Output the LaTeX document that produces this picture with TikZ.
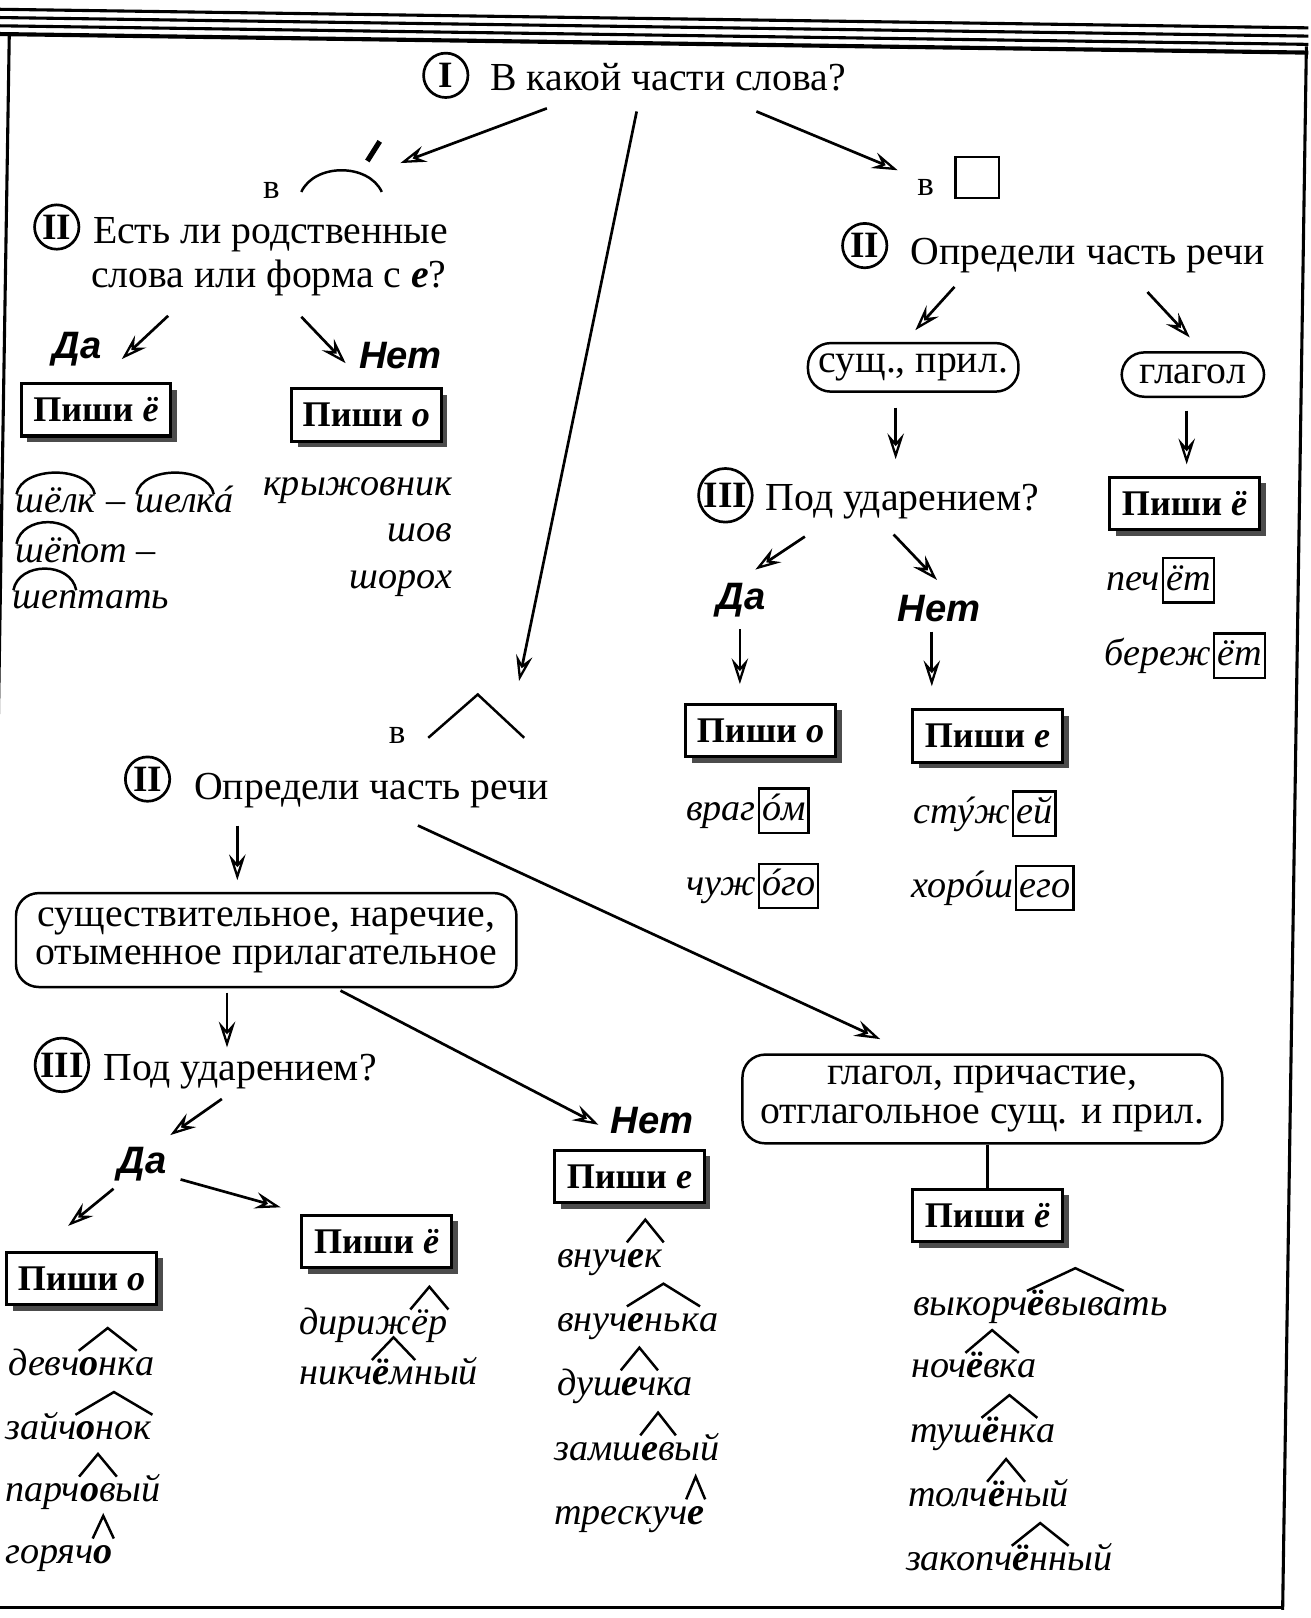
\documentclass[tikz,border=0pt]{standalone}
\usepackage{fontspec}
\setmainfont{Liberation Serif}
\newfontfamily\sansf{Liberation Sans}
\usetikzlibrary{calc,arrows.meta,shadows}
\newcommand\caretover[1]{\draw[mk] ($(#1.base west)+(-1,-24)$) -- ($(#1.base west)!0.5!(#1.base east)+(0,-46)$) -- ($(#1.base east)+(1,-24)$);}
\newcommand\rootover[1]{\draw[mk] ($(#1.base west)+(1,-18)$) .. controls ($(#1.base west)+(6,-46)$) and ($(#1.base east)+(-6,-46)$) .. ($(#1.base east)+(-1,-18)$);}
\newcommand\acc[1]{\ooalign{#1\cr\hidewidth\kern.14em ´\hidewidth\cr}}
\tikzset{
  qtext/.style={font=\fontsize{38.5}{40}\selectfont, inner sep=0pt, anchor=base west},
  numc/.style={circle, draw, line width=2.6pt, inner sep=0pt, minimum size=43pt, font=\bfseries\fontsize{36}{36}\selectfont},
  pishi/.style={draw, line width=3pt, fill=white, minimum width=145pt, minimum height=51pt, inner sep=0pt, font=\bfseries\fontsize{35}{35}\selectfont, drop shadow={shadow xshift=6pt, shadow yshift=-6pt, fill=black!70, opacity=1}},
  rbox/.style={draw, line width=2.4pt, rounded corners=22pt, align=center, inner sep=0pt, font=\fontsize{38.5}{37}\selectfont},
  yn/.style={font=\sansf\bfseries\itshape\fontsize{37}{37}\selectfont, inner sep=0pt},
  wd/.style={font=\itshape\fontsize{37}{37}\selectfont, inner sep=0pt, outer sep=0pt, anchor=base west},
  endbox/.style={draw, line width=2.2pt, inner xsep=3pt, inner ysep=3pt, text height=28pt, text depth=9pt, font=\itshape\fontsize{37}{37}\selectfont, anchor=base west, outer sep=0pt},
  vsym/.style={font=\fontsize{34}{34}\selectfont, inner sep=0pt},
  arr/.style={line width=2.6pt, -{Stealth[open, length=25pt, width=16pt, inset=9pt, line width=2.2pt]}},
  mk/.style={line width=2.4pt},
  frame/.style={line width=3pt},
}
\begin{document}
\begin{tikzpicture}[x=1pt,y=-1pt]
\useasboundingbox (0,0) rectangle (1270.4,1568);
\clip (0,0) rectangle (1270.4,1568);
\fill[white] (0,0) rectangle (1270.4,1568);
% frame
\draw[frame] (0,9) -- (1268,27);
\draw[frame] (0,17) -- (1268,35);
\draw[frame] (0,25) -- (1268,43);
\draw[line width=4pt] (0,33) -- (1268,51);
\draw[frame] (9,33) -- (-8,1100);
\draw[frame] (1266,45) -- (1243,1560);
\draw[frame] (-5,1558) -- (1243,1558);

% top question
\node[numc] (n1) at (432,73) {I};
\node[qtext] (q1) at (475,88) {В какой части слова?};

% root symbol
\node[vsym] (vroot) at (263,185) {в};
\draw[mk] (292,186) .. controls (305,158) and (357,158) .. (370,186);
\draw[line width=5pt] (356,156) -- (368,137);
% ending symbol
\node[vsym] (vend) at (897,182) {в};
\draw[mk] (926,152) rectangle (968,192);
% suffix symbol
\node[vsym] (vsuf) at (385,713) {в};
\draw[mk] (415,715) -- (463,673) -- (508,715);

\coordinate (a1s) at (530,105); \coordinate (a1e) at (388,158);
\coordinate (a2s) at (617,108); \coordinate (a2e) at (503,660);
\coordinate (a3s) at (733,108); \coordinate (a3e) at (870,165);
\draw[arr] (a1s) -- (a1e);
\draw[arr] (a2s) -- (a2e);
\draw[arr] (a3s) -- (a3e);

% ===== left branch =====
\node[numc] (n2L) at (55,220) {II};
\node[qtext] (q2La) at (90,236) {Есть ли родственные};
\node[qtext] (q2Lb) at (88,279) {слова или форма с \textbf{\textit{е}}?};
\coordinate (a4s) at (163,306); \coordinate (a4e) at (118,348);
\coordinate (a5s) at (292,307); \coordinate (a5e) at (335,352);
\draw[arr] (a4s) -- (a4e);
\draw[arr] (a5s) -- (a5e);
\node[yn] (daL) at (75,338) {Да};
\node[yn] (netL) at (388,345) {Нет};
\node[pishi] (pL1) at (93,397) {Пиши \textit{ё}};
\node[pishi] (pL2) at (355,402) {Пиши \textit{о}};

\node[wd] (r1a) at (15,497) {шёлк}; \rootover{r1a}
\node[wd] (r1b) at (r1a.base east) {\kern10pt–\kern10pt};
\node[wd] (r1c) at (r1b.base east) {шелк}; \rootover{r1c}
\node[wd] (r1d) at (r1c.base east) {\acc{а}};
\node[wd] (r2a) at (15,545) {шёп}; \rootover{r2a}
\node[wd] (r2b) at (r2a.base east) {от~–};
\node[wd] (r3a) at (12,590) {шеп}; \rootover{r3a}
\node[wd] (r3b) at (r3a.base east) {тать};
\node[wd, anchor=base east] (o1) at (438,480) {крыжовник};
\node[wd, anchor=base east] (o2) at (438,525) {шов};
\node[wd, anchor=base east] (o3) at (438,570) {шорох};

% ===== right branch =====
\node[numc] (n2R) at (838,238) {II};
\node[qtext] (q2R) at (882,256) {Определи часть речи};
\coordinate (a6s) at (925,278); \coordinate (a6e) at (887,320);
\coordinate (a7s) at (1112,283); \coordinate (a7e) at (1153,327);
\draw[arr] (a6s) -- (a6e);
\draw[arr] (a7s) -- (a7e);
\node[rbox, minimum width=204pt, minimum height=47pt] (sp) at (885,356) {сущ., прил.};
\node[rbox, minimum width=138pt, minimum height=43pt] (gl) at (1156,363) {глагол};
\coordinate (a8s) at (868,395); \coordinate (a8e) at (868,445);
\coordinate (a9s) at (1150,398); \coordinate (a9e) at (1150,450);
\draw[arr] (a8s) -- (a8e);
\draw[arr] (a9s) -- (a9e);
\node[numc, minimum size=52pt] (n3R) at (703,480) {III};
\node[qtext] (q3R) at (742,495) {Под ударением?};
\node[pishi] (pR1) at (1148,488) {Пиши \textit{ё}};
\node[wd] (e1a) at (1072,572) {печ};
\node[endbox, xshift=3pt] (e1b) at (e1a.base east) {ёт};
\node[wd] (e2a) at (1070,645) {береж};
\node[endbox, xshift=3pt] (e2b) at (e2a.base east) {ёт};
\coordinate (a10s) at (780,520); \coordinate (a10e) at (732,552);
\coordinate (a11s) at (866,518); \coordinate (a11e) at (908,562);
\draw[arr] (a10s) -- (a10e);
\draw[arr] (a11s) -- (a11e);
\node[yn] (daR) at (718,582) {Да};
\node[yn] (netR) at (910,590) {Нет};
\coordinate (a12s) at (717,610); \coordinate (a12e) at (717,663);
\coordinate (a13s) at (903,612); \coordinate (a13e) at (903,665);
\draw[arr] (a12s) -- (a12e);
\draw[arr] (a13s) -- (a13e);
\node[pishi] (pR2) at (737,708) {Пиши \textit{о}};
\node[pishi] (pR3) at (957,713) {Пиши \textit{е}};
\node[wd] (e3a) at (665,795) {враг};
\node[endbox, xshift=3pt] (e3b) at (e3a.base east) {\acc{о}м};
\node[wd] (e4a) at (665,868) {чуж};
\node[endbox, xshift=3pt] (e4b) at (e4a.base east) {\acc{о}го};
\node[wd] (e5a) at (885,798) {ст\acc{у}ж};
\node[endbox, xshift=3pt] (e5b) at (e5a.base east) {ей};
\node[wd] (e6a) at (883,870) {хор\acc{о}ш};
\node[endbox, xshift=3pt] (e6b) at (e6a.base east) {его};

% ===== middle (suffix) branch =====
\node[numc] (n2M) at (143,755) {II};
\node[qtext] (q2M) at (188,775) {Определи часть речи};
\coordinate (a14s) at (230,800); \coordinate (a14e) at (230,853);
\coordinate (a15s) at (405,800); \coordinate (a15e) at (853,1007);
\draw[arr] (a14s) -- (a14e);
\draw[arr] (a15s) -- (a15e);
\node[rbox, minimum width=485pt, minimum height=91pt] (sn) at (258,911) {существительное, наречие,\\отыменное прилагательное};
\coordinate (a16s) at (220,962); \coordinate (a16e) at (220,1015);
\coordinate (a17s) at (330,960); \coordinate (a17e) at (580,1090);
\draw[arr] (a16s) -- (a16e);
\draw[arr] (a17s) -- (a17e);
\node[numc, minimum size=52pt] (n3M) at (60,1032) {III};
\node[qtext] (q3M) at (100,1047) {Под ударением?};
\coordinate (a18s) at (215,1065); \coordinate (a18e) at (165,1100);
\draw[arr] (a18s) -- (a18e);
\node[yn] (daM) at (138,1128) {Да};
\coordinate (a19s) at (110,1152); \coordinate (a19e) at (66,1188);
\coordinate (a20s) at (175,1143); \coordinate (a20e) at (272,1170);
\draw[arr] (a19s) -- (a19e);
\draw[arr] (a20s) -- (a20e);
\node[yn] (netM) at (632,1086) {Нет};
\node[pishi] (pM1) at (610,1140) {Пиши \textit{е}};
\node[pishi] (pM2) at (365,1203) {Пиши \textit{ё}};
\node[pishi] (pM3) at (79,1239) {Пиши \textit{о}};
\node[rbox, minimum width=465pt, minimum height=86pt] (gp) at (952,1065) {глагол, причастие,\\отглагольное сущ. и прил.};
\node[pishi] (pM4) at (957,1178) {Пиши \textit{ё}};
\draw[line width=2.4pt] (gp.south -| pM4.north) -- (pM4.north);

% words: left column
\node[wd] (s1a) at (8,1333) {девч};
\node[wd] (s1b) at (s1a.base east) {\textbf{о}нк}; \caretover{s1b}
\node[wd] (s1c) at (s1b.base east) {а};
\node[wd] (s2a) at (5,1395) {зайч};
\node[wd] (s2b) at (s2a.base east) {\textbf{о}нок}; \caretover{s2b}
\node[wd] (s3a) at (5,1455) {парч};
\node[wd] (s3b) at (s3a.base east) {\textbf{о}в}; \caretover{s3b}
\node[wd] (s3c) at (s3b.base east) {ый};
\node[wd] (s4a) at (5,1515) {горяч};
\node[wd] (s4b) at (s4a.base east) {\textbf{о}}; \caretover{s4b}
% middle column
\node[wd] (t1a) at (290,1293) {дириж};
\node[wd] (t1b) at (t1a.base east) {ёр}; \caretover{t1b}
\node[wd] (t2a) at (290,1342) {никч};
\node[wd] (t2b) at (t2a.base east) {\textbf{ё}м}; \caretover{t2b}
\node[wd] (t2c) at (t2b.base east) {ный};
% column under Пиши е
\node[wd] (u1a) at (540,1228) {внуч};
\node[wd] (u1b) at (u1a.base east) {\textbf{е}к}; \caretover{u1b}
\node[wd] (u2a) at (540,1290) {внуч};
\node[wd] (u2b) at (u2a.base east) {\textbf{е}ньк}; \caretover{u2b}
\node[wd] (u2c) at (u2b.base east) {а};
\node[wd] (u3a) at (540,1352) {душ};
\node[wd] (u3b) at (u3a.base east) {\textbf{е}ч}; \caretover{u3b}
\node[wd] (u3c) at (u3b.base east) {ка};
\node[wd] (u4a) at (537,1415) {замш};
\node[wd] (u4b) at (u4a.base east) {\textbf{е}в}; \caretover{u4b}
\node[wd] (u4c) at (u4b.base east) {ый};
\node[wd] (u5a) at (537,1477) {трескуч};
\node[wd] (u5b) at (u5a.base east) {\textbf{е}}; \caretover{u5b}
% right column
\node[wd] (v1a) at (885,1275) {выкорч};
\node[wd] (v1b) at (v1a.base east) {\textbf{ё}выва}; \caretover{v1b}
\node[wd] (v1c) at (v1b.base east) {ть};
\node[wd] (v2a) at (883,1335) {ноч};
\node[wd] (v2b) at (v2a.base east) {\textbf{ё}вк}; \caretover{v2b}
\node[wd] (v2c) at (v2b.base east) {а};
\node[wd] (v3a) at (882,1398) {туш};
\node[wd] (v3b) at (v3a.base east) {\textbf{ё}нк}; \caretover{v3b}
\node[wd] (v3c) at (v3b.base east) {а};
\node[wd] (v4a) at (880,1460) {толч};
\node[wd] (v4b) at (v4a.base east) {\textbf{ё}н}; \caretover{v4b}
\node[wd] (v4c) at (v4b.base east) {ый};
\node[wd] (v5a) at (878,1522) {закопч};
\node[wd] (v5b) at (v5a.base east) {\textbf{ё}нн}; \caretover{v5b}
\node[wd] (v5c) at (v5b.base east) {ый};
\end{tikzpicture}
\end{document}
